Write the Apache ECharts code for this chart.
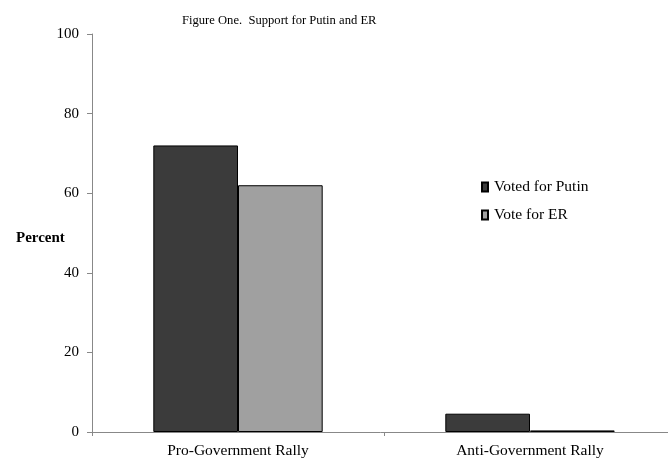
<!DOCTYPE html>
<html><head><meta charset="utf-8">
<script src="https://cdn.jsdelivr.net/npm/echarts@6/dist/echarts.min.js"></script>
<style>html,body{margin:0;padding:0;background:#fff}#c{width:668px;height:460px}</style>
</head><body><div id="c"></div>
<script>
const categories = ['Pro-Government Rally', 'Anti-Government Rally'];
const votedPutin = [72, 4.6];
const voteER = [62, 0.4];
const yTicks = [0, 20, 40, 60, 80, 100];

const font = '"Liberation Serif", "DejaVu Serif", serif';
const chart = echarts.init(document.getElementById('c'));
chart.setOption({
  animation: false,
  textStyle: { fontFamily: font },
  title: [
    { text: 'Figure One.  Support for Putin and ER', left: 177, top: 9,
      textStyle: { fontFamily: font, fontSize: 12.6, fontWeight: 'normal', color: '#000' } },
    { text: 'Percent', left: 11, top: 226,
      textStyle: { fontFamily: font, fontSize: 15, fontWeight: 'bold', color: '#000' } }
  ],
  legend: {
    orient: 'vertical', left: 476, top: 174, itemGap: 12,
    itemWidth: 6, itemHeight: 9, icon: 'rect',
    textStyle: { fontFamily: font, fontSize: 15.5, color: '#000', padding: [0, 0, 0, 1] },
    data: ['Voted for Putin', 'Vote for ER']
  },
  grid: { left: 92, width: 584, top: 34, bottom: 28, outerBoundsMode: 'none', containLabel: false },
  xAxis: {
    type: 'category', data: categories,
    axisLine: { lineStyle: { color: '#888' } },
    axisTick: { show: true, length: 4, lineStyle: { color: '#888' } },
    axisLabel: { color: '#000', fontSize: 15.5, margin: 11, fontFamily: font }
  },
  yAxis: {
    type: 'value', min: 0, max: 100, interval: 20,
    axisLine: { show: true, lineStyle: { color: '#888' } },
    axisTick: { show: true, length: 5, lineStyle: { color: '#888' } },
    splitLine: { show: false },
    axisLabel: { color: '#000', fontSize: 15, margin: 13, fontFamily: font,
      formatter: v => yTicks.includes(v) ? String(v) : '' }
  },
  series: [
    { name: 'Voted for Putin', type: 'bar', data: votedPutin, barGap: '0%', barCategoryGap: '42%',
      itemStyle: { color: '#3b3b3b', borderColor: '#000', borderWidth: 1 } },
    { name: 'Vote for ER', type: 'bar', data: voteER,
      itemStyle: { color: '#a0a0a0', borderColor: '#000', borderWidth: 1 } }
  ]
});
</script></body></html>
